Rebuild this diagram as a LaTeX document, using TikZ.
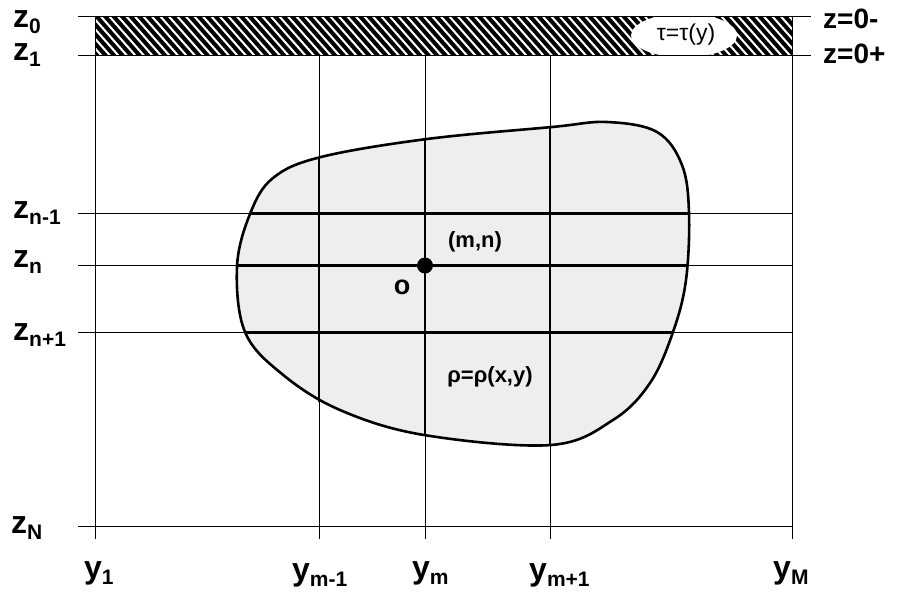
\documentclass[tikz,border=0pt]{standalone}
\usepackage{fontspec}
\setmainfont{Liberation Sans}
\newcommand\zlab[2]{{\fontsize{32}{32}\bfseries\selectfont #1}\raisebox{-6pt}{\fontsize{21}{21}\bfseries\selectfont #2}}
\tikzset{
  grid/.style={line width=1pt, black},
  thickgrid/.style={line width=2.8pt, black},
  midgrid/.style={line width=1.7pt, black},
  outline/.style={line width=2.6pt, black},
  lab/.style={anchor=base west, inner sep=0pt},
  inlab/.style={inner sep=0pt, font=\fontsize{22}{22}\bfseries\selectfont},
}
\begin{document}
\begin{tikzpicture}[x=1pt,y=-1pt]
\useasboundingbox (0,0) rectangle (898,595);
% blob fill
\fill[gray!13] plot[smooth cycle, tension=0.6] coordinates {
 (237,267) (250,214) (273,178) (321,157) (427,139) (552,127) (607,122)
 (657,132) (682,165) (689,213) (686,280) (673,332) (650,383) (613,420)
 (551,445) (424,435) (340,410) (282,374) (245,332)};
% hatched band
\begin{scope}
  \clip (95,16) rectangle (792,55);
  \foreach \x in {40,48.5,...,800} \draw[line width=4pt] (\x,10) -- (\x+45,61);
  \fill[white] (684,35.5) ellipse [x radius=53, y radius=22];
\end{scope}
\node[inner sep=0pt, font=\fontsize{23}{23}\selectfont] (tau) at (686,35) {τ=τ(y)};
% grid
\coordinate (a0) at (78,16);  \coordinate (b0) at (811,16);
\coordinate (a1) at (78,55);  \coordinate (b1) at (811,55);
\draw[grid] (a0) -- (b0);
\draw[grid] (a1) -- (b1);
\coordinate (Lp) at (78,213.5); \coordinate (Rp) at (792,213.5);
\coordinate (Lq) at (78,265.5); \coordinate (Rq) at (792,265.5);
\coordinate (Lr) at (78,332.5); \coordinate (Rr) at (792,332.5);
\coordinate (Ls) at (78,526);   \coordinate (Rs) at (792,526);
\draw[grid] (Lp) -- (Rp);
\draw[grid] (Lq) -- (Rq);
\draw[grid] (Lr) -- (Rr);
\draw[grid] (Ls) -- (Rs);
\coordinate (Ta) at (95,16);  \coordinate (Ba) at (95,539);
\coordinate (Tb) at (319,55); \coordinate (Bb) at (319,539);
\coordinate (Tc) at (425,55); \coordinate (Bc) at (425,539);
\coordinate (Td) at (550,55); \coordinate (Bd) at (550,539);
\coordinate (Te) at (792,16); \coordinate (Be) at (792,539);
\draw[grid] (Ta) -- (Ba);
\draw[grid] (Tb) -- (Bb);
\draw[grid] (Tc) -- (Bc);
\draw[grid] (Td) -- (Bd);
\draw[grid] (Te) -- (Be);
% heavier segments inside the body
\coordinate (ip1) at (250,213.5); \coordinate (ip2) at (689,213.5);
\coordinate (iq1) at (237,265.5); \coordinate (iq2) at (688,265.5);
\coordinate (ir1) at (245,332.5); \coordinate (ir2) at (673,332.5);
\coordinate (jb1) at (319,158);   \coordinate (jb2) at (319,402);
\coordinate (jc1) at (425,139);   \coordinate (jc2) at (425,435);
\coordinate (jd1) at (550,127);   \coordinate (jd2) at (550,445);
\draw[thickgrid] (ip1) -- (ip2);
\draw[thickgrid] (iq1) -- (iq2);
\draw[thickgrid] (ir1) -- (ir2);
\draw[midgrid] (jb1) -- (jb2);
\draw[midgrid] (jc1) -- (jc2);
\draw[midgrid] (jd1) -- (jd2);
\draw[outline] plot[smooth cycle, tension=0.6] coordinates {
 (237,267) (250,214) (273,178) (321,157) (427,139) (552,127) (607,122)
 (657,132) (682,165) (689,213) (686,280) (673,332) (650,383) (613,420)
 (551,445) (424,435) (340,410) (282,374) (245,332)};
% point
\node[circle, fill=black, inner sep=0pt, minimum size=16pt] (mn) at (425,265.5) {};
\node[inlab] (mnl) at (475,242) {(m,n)};
\node[inlab, font=\fontsize{27}{27}\bfseries\selectfont] (o) at (402,287) {o};
\node[inlab] (rho) at (490,377) {ρ=ρ(x,y)};
% z labels
\node[lab] (z0) at (13,27) {\zlab{z}{0}};
\node[lab] (z1) at (13,60) {\zlab{z}{1}};
\node[lab] (znm) at (13,218) {\zlab{z}{n-1}};
\node[lab] (zn) at (13,267) {\zlab{z}{n}};
\node[lab] (znp) at (13,340) {\zlab{z}{n+1}};
\node[lab] (zN) at (11,533) {\zlab{z}{N}};
% y labels
\node[lab] (y1) at (84,578) {\zlab{y}{1}};
\node[lab] (ymm) at (292,580) {\zlab{y}{m-1}};
\node[lab] (ym) at (412,578) {\zlab{y}{m}};
\node[lab] (ymp) at (529,580) {\zlab{y}{m+1}};
\node[lab] (yM) at (773,578) {\zlab{y}{M}};
% right labels
\node[lab, font=\fontsize{28}{28}\bfseries\selectfont] (zm) at (823,28) {z=0-};
\node[lab, font=\fontsize{28}{28}\bfseries\selectfont] (zp) at (823,63) {z=0+};
\end{tikzpicture}
\end{document}
